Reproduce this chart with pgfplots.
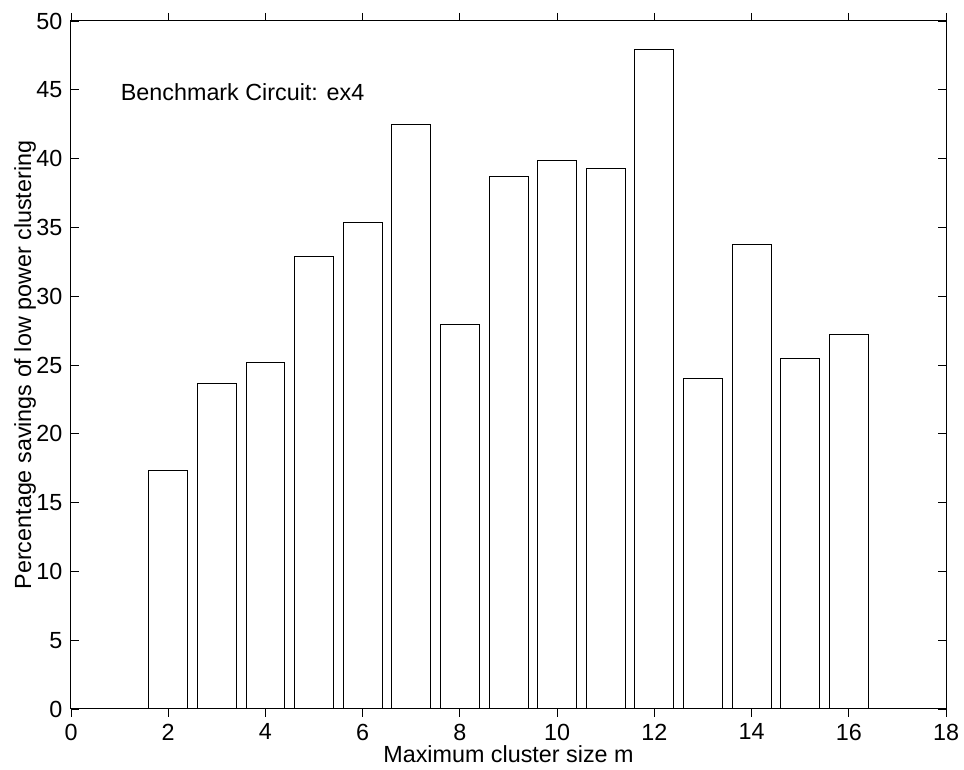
\documentclass[border=0pt]{standalone}
\usepackage{pgfplots}
\pgfplotsset{compat=1.18}
\usepackage{fontspec}
\setmainfont{Liberation Sans}
\newcommand\chartfont{\fontsize{17.5}{21}\selectfont}

\begin{document}
\begin{tikzpicture}[font=\chartfont]
\begin{axis}[
    scale only axis,
    width=656.25pt,
    height=516pt,
    xmin=0, xmax=18,
    ymin=0, ymax=50,
    xtick={0,2,...,18},
    ytick={0,5,...,50},
    tick align=inside,
    major tick length=6pt,
    axis on top,
    axis line style={line width=0.75pt},
    every tick/.style={black, line width=0.6pt},
    /pgf/number format/assume math mode=true,
    tick label style={font=\chartfont},
    xticklabel style={yshift=-5pt, inner sep=0pt},
    yticklabel style={xshift=-3pt},
    label style={font=\chartfont},
    xlabel={Maximum cluster size m},
    ylabel={Percentage savings of low power clustering},
    xlabel style={at={(axis description cs:0.5,-0.066)}, anchor=center, inner sep=0pt},
    ylabel style={at={(axis description cs:-0.0526,0.5)}, anchor=center, inner sep=0pt},
    ybar,
    bar width=0.8,
]

% savings per maximum cluster size
\addplot[fill=white, draw=black, line width=0.6pt] coordinates {
    (2, 17.37) (3, 23.67) (4, 25.17) (5, 32.87) (6, 35.39)
    (7, 42.49) (8, 27.93) (9, 38.74) (10, 39.90) (11, 39.29)
    (12, 47.94) (13, 24.03) (14, 33.74) (15, 25.49) (16, 27.20)
};

\node[anchor=west, font=\chartfont] at (axis cs:0.93,44.8) {Benchmark Circuit: ex4};
\end{axis}
\pgfresetboundingbox
\path (current axis.south west) ++(-53.25pt,-45.75pt) coordinate (a);
\path (current axis.north east) ++(13.5pt,15.75pt) coordinate (b);
\useasboundingbox (a) rectangle (b);
\end{tikzpicture}
\end{document}
